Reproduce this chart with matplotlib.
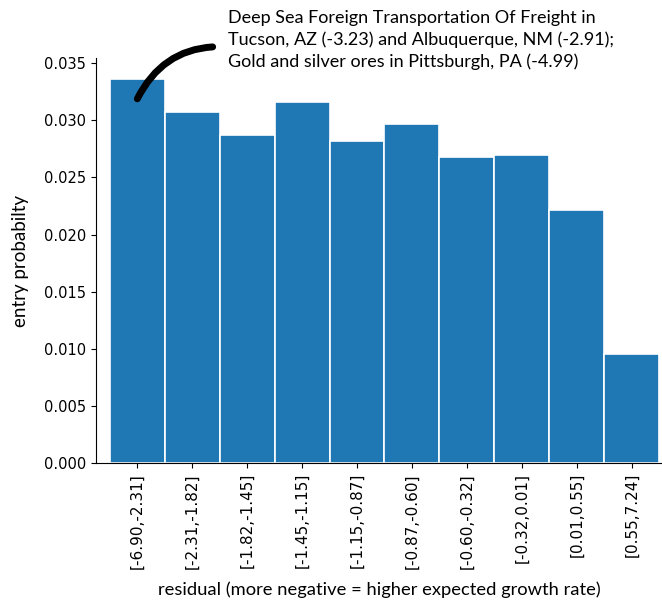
import matplotlib
matplotlib.use('Agg')
import matplotlib.pyplot as plt

# --- data ---
bins = ['[-6.90,-2.31]', '[-2.31,-1.82]', '[-1.82,-1.45]', '[-1.45,-1.15]', '[-1.15,-0.87]',
        '[-0.87,-0.60]', '[-0.60,-0.32]', '[-0.32,0.01]', '[0.01,0.55]', '[0.55,7.24]']
probs = [0.03363, 0.03071, 0.02873, 0.03164, 0.02823, 0.02966, 0.0268, 0.02698, 0.02216, 0.00956]

note = ("Deep Sea Foreign Transportation Of Freight in\n"
        "Tucson, AZ (-3.23) and Albuquerque, NM (-2.91);\n"
        "Gold and silver ores in Pittsburgh, PA (-4.99)")

LABEL_FONT = ['Lato', 'DejaVu Sans']

fig = plt.figure(figsize=(6.62, 6.05), dpi=100)
ax = fig.add_axes([96 / 662, 1 - 463.3 / 605, 1 - 96 / 662, (463.3 - 58) / 605])

x = list(range(len(probs)))
ax.bar(x, probs, width=1.0, color='#1f77b4', edgecolor='white', linewidth=1.2)

ax.set_xlim(-0.752, 9.552)
ax.set_ylim(0, 0.03545)
ax.set_xticks(x)
ax.set_xticklabels(bins, rotation=90, fontsize=11)
ax.set_yticks([0, 0.005, 0.01, 0.015, 0.02, 0.025, 0.03, 0.035])
ax.set_yticklabels(['%.3f' % v for v in ax.get_yticks()], fontsize=10.5)

ax.set_ylabel('entry probabilty', family=LABEL_FONT, fontsize=13.5, labelpad=11)
ax.set_xlabel('residual (more negative = higher expected growth rate)', family=LABEL_FONT,
              fontsize=13.2, labelpad=9)

for side in ['top', 'right']:
    ax.spines[side].set_visible(False)

# annotation with curved connector
ax.annotate(note, xy=(0, probs[0] - 0.00175), xytext=(1.65, 0.03704),
            ha='left', va='center', family=LABEL_FONT, fontsize=13, linespacing=1.38,
            annotation_clip=False,
            arrowprops=dict(arrowstyle='-', lw=5, color='black',
                            connectionstyle='arc3,rad=0.33',
                            relpos=(0, 0.38), shrinkA=9, shrinkB=0))

fig.savefig('out.png', dpi=100)
